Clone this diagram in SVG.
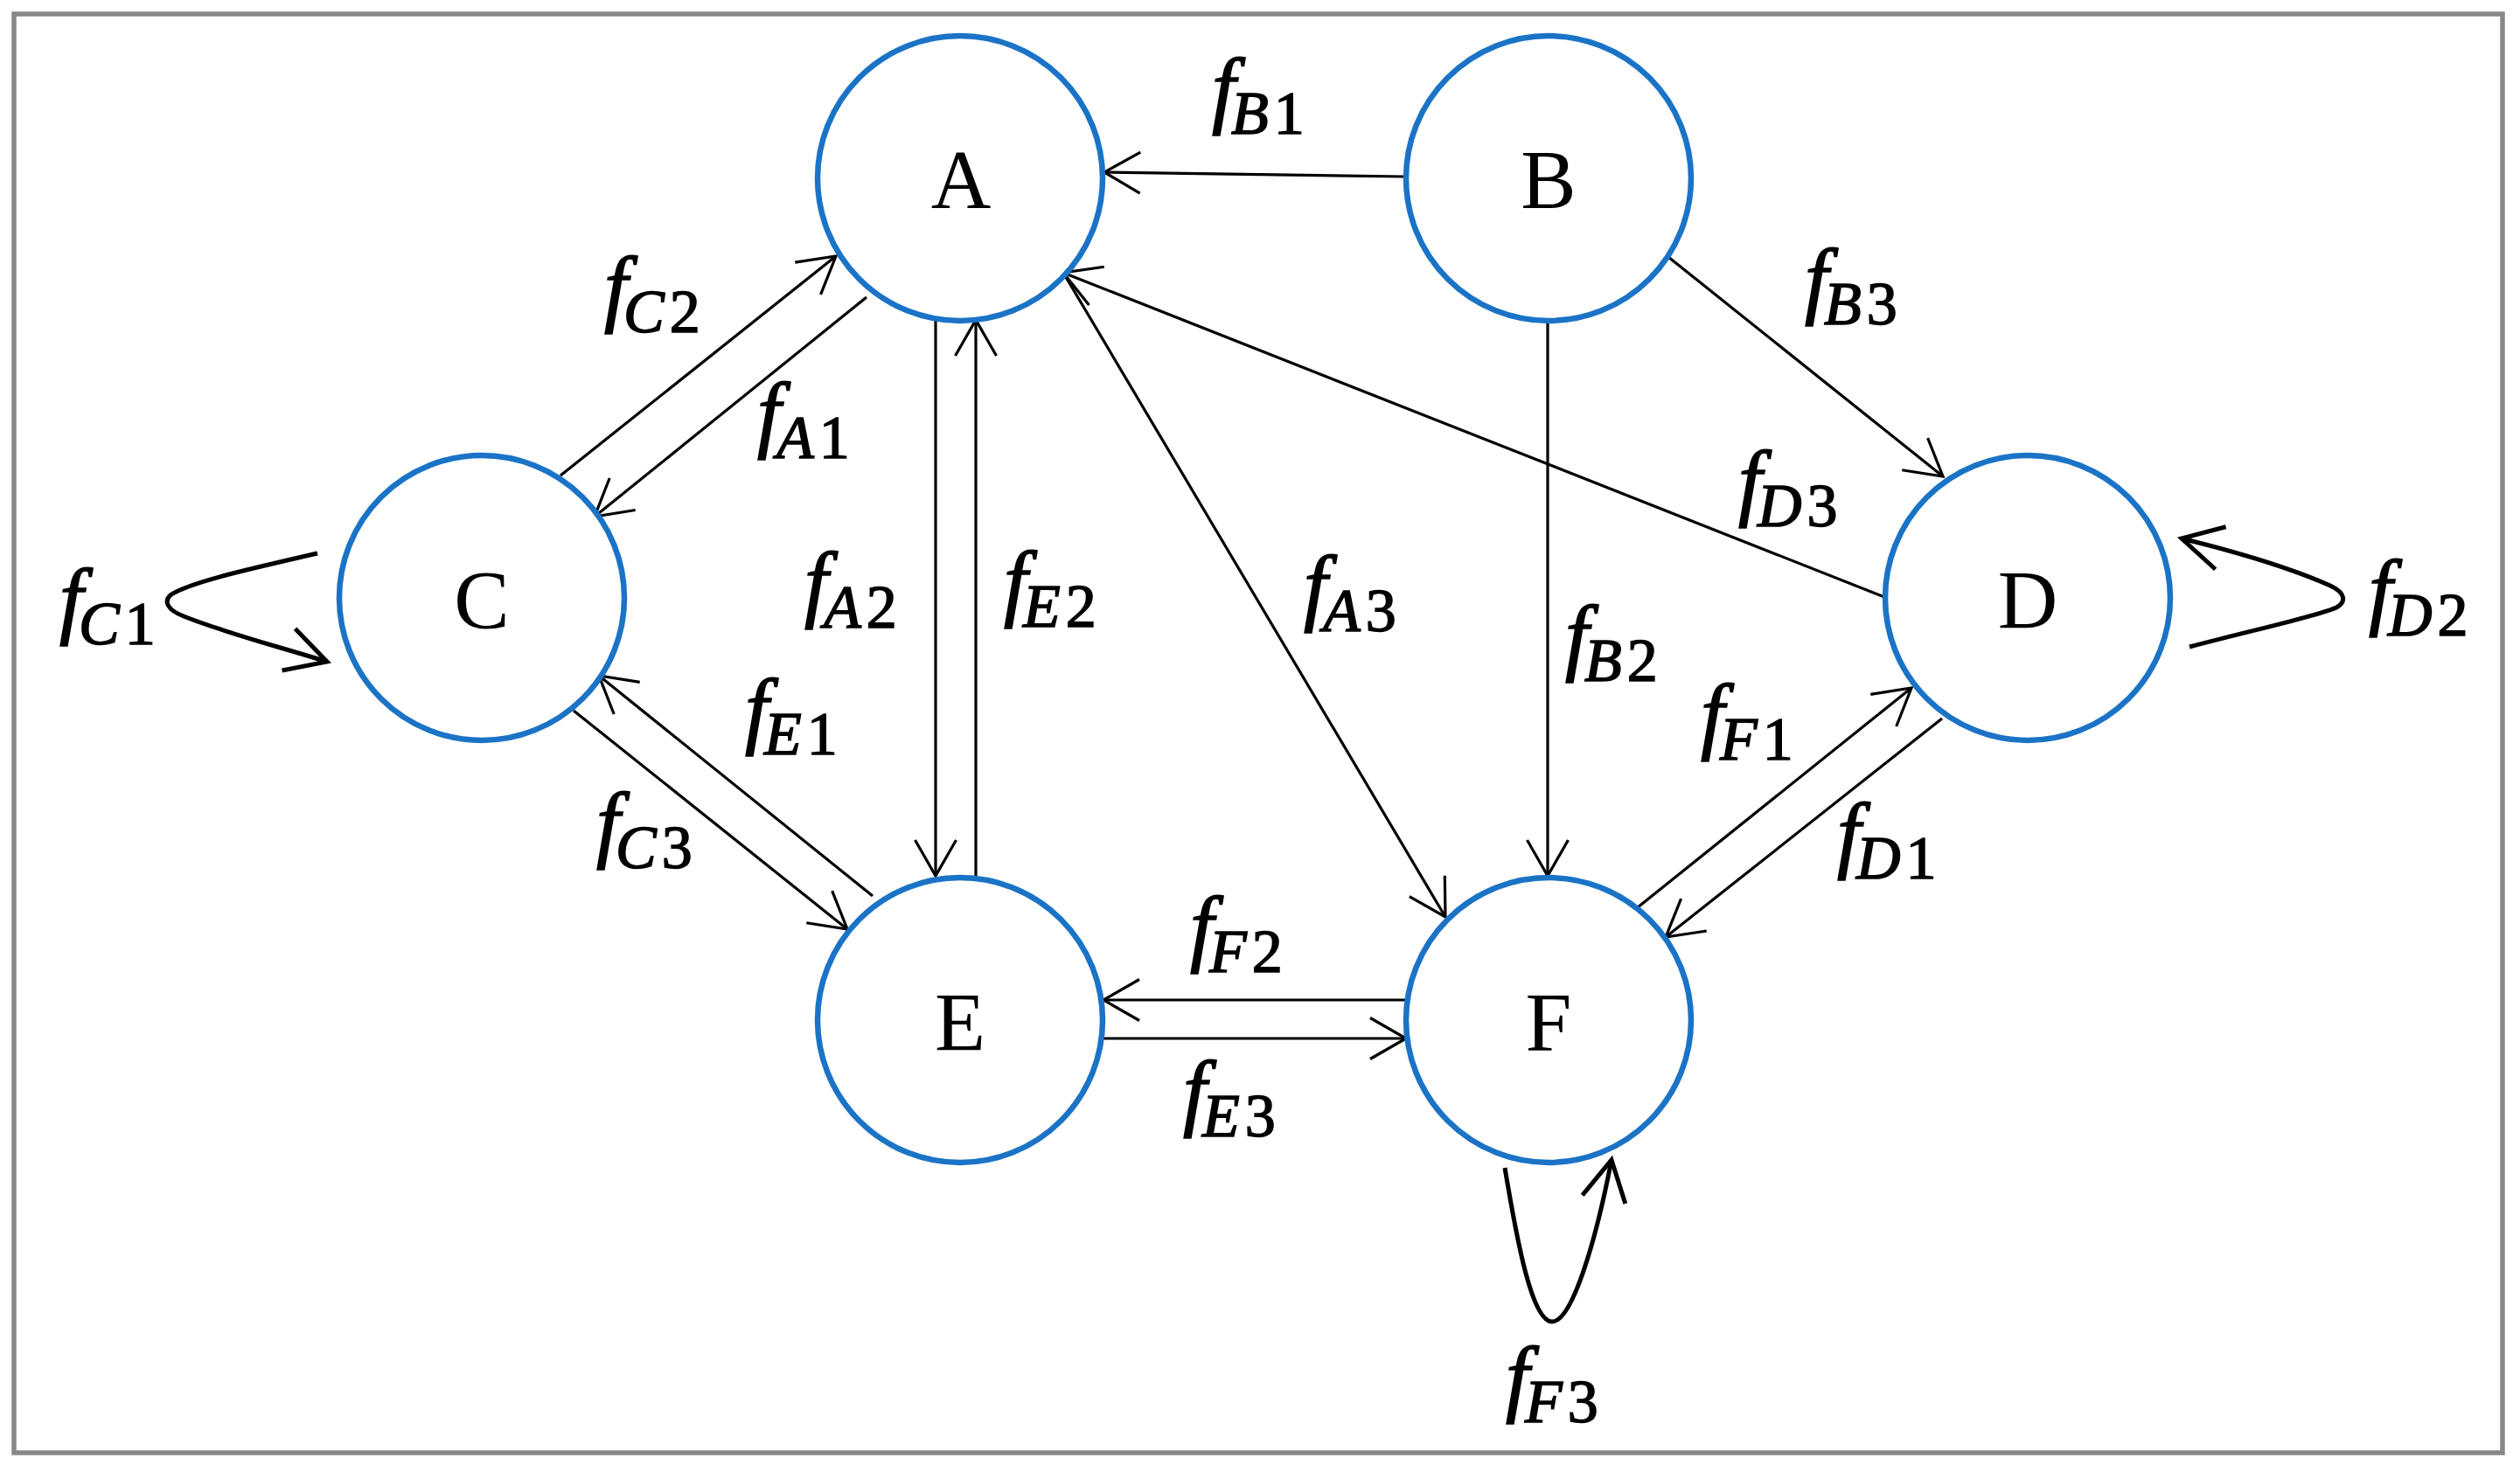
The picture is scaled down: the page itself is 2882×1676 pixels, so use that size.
<svg xmlns="http://www.w3.org/2000/svg" width="2882" height="1676" viewBox="0 0 2882 1676">
<style>
.node{fill:#fff;stroke:#1B73C6;stroke-width:6.5}
.nl{font-family:"Liberation Serif","Times New Roman",serif;font-size:95px;text-anchor:middle;fill:#000}
.e{fill:none;stroke:#000;stroke-width:3.2;marker-end:url(#arr)}
.lp{fill:none;stroke:#000;stroke-width:5;marker-end:url(#arrL)}
.lab{font-family:"Liberation Serif","Times New Roman",serif;fill:#000;stroke:#000;stroke-width:1.6}
.fi{font-style:italic;font-size:97px}
.si{font-style:italic;font-size:70px;letter-spacing:6px}
.sd{font-style:normal;font-size:70px}
</style>
<defs>
<marker id="arr" markerUnits="userSpaceOnUse" orient="auto" overflow="visible" markerWidth="1" markerHeight="1" refX="0" refY="0">
<path d="M-41,-23.5 L0,0 L-41,23.5" fill="none" stroke="#000" stroke-width="3.2"/>
</marker>
<marker id="arrL" markerUnits="userSpaceOnUse" orient="auto" overflow="visible" markerWidth="1" markerHeight="1" refX="0" refY="0">
<path d="M-46,-25 L0,0 L-46,25" fill="none" stroke="#000" stroke-width="5"/>
</marker>
</defs>
<rect x="16" y="16" width="2846" height="1646" fill="#fff" stroke="#888" stroke-width="5.5"/>
<g id="connectors">
<path class="e" d="M1605,202 L1263,197"/>
<path class="e" d="M641,544 L956,293"/>
<path class="e" d="M991,340 L680,591"/>
<path class="e" d="M1070,365 L1070,1002"/>
<path class="e" d="M1116,1003 L1116,366"/>
<path class="e" d="M1216,312 L1653,1049"/>
<path class="e" d="M1770,367 L1770,1002"/>
<path class="e" d="M1908,294 L2222,545"/>
<path class="e" d="M2155,683 L1216,312"/>
<path class="e" d="M2221,822 L1905,1072"/>
<path class="e" d="M1873,1038 L2186,787"/>
<path class="e" d="M656,813 L969,1063"/>
<path class="e" d="M998,1025 L685,773"/>
<path class="e" d="M1608,1144 L1262,1144"/>
<path class="e" d="M1262,1188 L1608,1188"/>
<path class="lp" d="M363,633 C290,650 220,665 196,680 C186,688 192,698 210,705 C260,725 320,740 374,757"/>
<path class="lp" d="M2504,740 C2580,720 2650,705 2672,695 C2684,688 2682,678 2665,670 C2620,650 2560,632 2495,616"/>
<path class="lp" d="M1721,1336 C1735,1420 1752,1512 1775,1512 C1798,1512 1825,1420 1843,1327"/>
</g>
<g id="node-A"><circle class="node" cx="1098" cy="204" r="163"/><text class="nl" x="1099" y="238">A</text></g>
<g id="node-B"><circle class="node" cx="1771" cy="204" r="163"/><text class="nl" x="1771" y="238">B</text></g>
<g id="node-C"><circle class="node" cx="551" cy="684" r="163"/><text class="nl" x="551" y="719">C</text></g>
<g id="node-D"><circle class="node" cx="2319" cy="684" r="163"/><text class="nl" x="2319" y="719">D</text></g>
<g id="node-E"><circle class="node" cx="1098" cy="1167" r="163"/><text class="nl" x="1098" y="1202">E</text></g>
<g id="node-F"><circle class="node" cx="1771" cy="1167" r="163"/><text class="nl" x="1771" y="1202">F</text></g>
<g id="labels">
<text class="lab" x="1386" y="134"><tspan class="fi">f</tspan><tspan class="si" dy="19" dx="-5">B</tspan><tspan class="sd">1</tspan></text>
<text class="lab" x="691" y="361"><tspan class="fi">f</tspan><tspan class="si" dy="19" dx="-5">C</tspan><tspan class="sd">2</tspan></text>
<text class="lab" x="866" y="505"><tspan class="fi">f</tspan><tspan class="si" dy="19" dx="-5">A</tspan><tspan class="sd">1</tspan></text>
<text class="lab" x="2064" y="352"><tspan class="fi">f</tspan><tspan class="si" dy="19" dx="-5">B</tspan><tspan class="sd">3</tspan></text>
<text class="lab" x="1988" y="583"><tspan class="fi">f</tspan><tspan class="si" dy="19" dx="-5">D</tspan><tspan class="sd">3</tspan></text>
<text class="lab" x="68" y="718"><tspan class="fi">f</tspan><tspan class="si" dy="19" dx="-5">C</tspan><tspan class="sd">1</tspan></text>
<text class="lab" x="2709" y="708"><tspan class="fi">f</tspan><tspan class="si" dy="19" dx="-5">D</tspan><tspan class="sd">2</tspan></text>
<text class="lab" x="920" y="699"><tspan class="fi">f</tspan><tspan class="si" dy="19" dx="-5">A</tspan><tspan class="sd">2</tspan></text>
<text class="lab" x="1148" y="698"><tspan class="fi">f</tspan><tspan class="si" dy="19" dx="-5">E</tspan><tspan class="sd">2</tspan></text>
<text class="lab" x="1491" y="703"><tspan class="fi">f</tspan><tspan class="si" dy="19" dx="-5">A</tspan><tspan class="sd">3</tspan></text>
<text class="lab" x="1790" y="760"><tspan class="fi">f</tspan><tspan class="si" dy="19" dx="-5">B</tspan><tspan class="sd">2</tspan></text>
<text class="lab" x="852" y="844"><tspan class="fi">f</tspan><tspan class="si" dy="19" dx="-5">E</tspan><tspan class="sd">1</tspan></text>
<text class="lab" x="1945" y="850"><tspan class="fi">f</tspan><tspan class="si" dy="19" dx="-5">F</tspan><tspan class="sd">1</tspan></text>
<text class="lab" x="682" y="974"><tspan class="fi">f</tspan><tspan class="si" dy="19" dx="-5">C</tspan><tspan class="sd">3</tspan></text>
<text class="lab" x="2101" y="986"><tspan class="fi">f</tspan><tspan class="si" dy="19" dx="-5">D</tspan><tspan class="sd">1</tspan></text>
<text class="lab" x="1361" y="1093"><tspan class="fi">f</tspan><tspan class="si" dy="19" dx="-5">F</tspan><tspan class="sd">2</tspan></text>
<text class="lab" x="1353" y="1281"><tspan class="fi">f</tspan><tspan class="si" dy="19" dx="-5">E</tspan><tspan class="sd">3</tspan></text>
<text class="lab" x="1722" y="1608"><tspan class="fi">f</tspan><tspan class="si" dy="19" dx="-5">F</tspan><tspan class="sd">3</tspan></text>
</g>
</svg>
